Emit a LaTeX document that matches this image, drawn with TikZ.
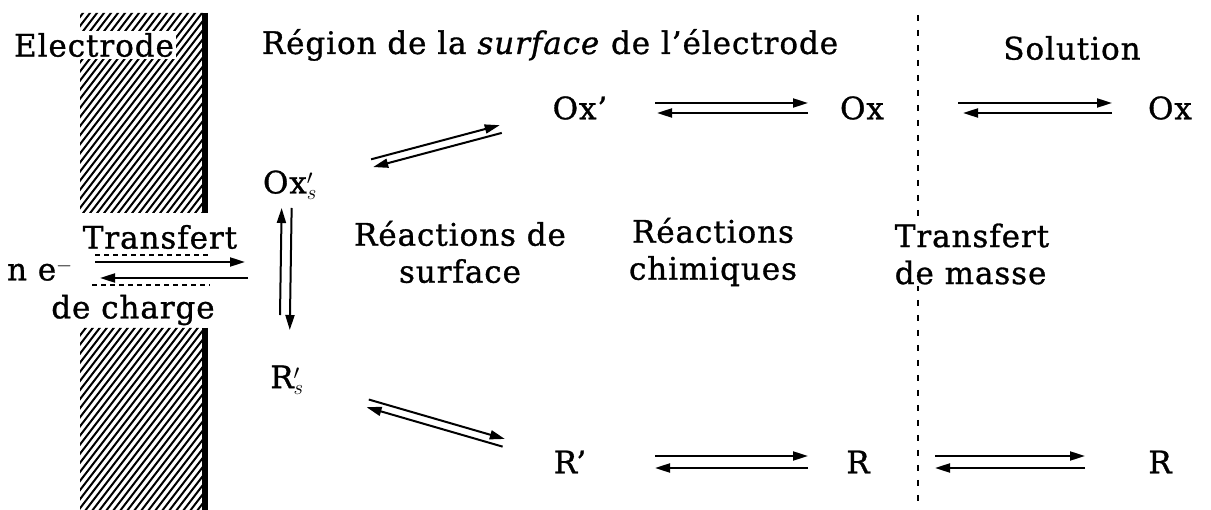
\documentclass[tikz,border=0pt]{standalone}
\usepackage{fontspec}
\setmainfont{DejaVu Serif}[LetterSpace=3,FakeBold=1]
\usetikzlibrary{arrows.meta,calc}

\begin{document}
\begin{tikzpicture}[x=1pt,y=-1pt,
    every node/.style={font=\fontsize{31}{37}\selectfont,inner sep=2pt},
    txtbox/.style={fill=white,align=center},
    eqline/.style={line width=2pt},
    eqhead/.style={eqline,-{Triangle[length=15pt,width=9pt]}},
    hatchline/.style={line width=2pt},
    wall/.style={line width=6pt}]
  \useasboundingbox (0,0) rectangle (1211,510);

  % electrode with its hatching
  \begin{scope}
    \clip (80,13) rectangle (203,213) (80,328) rectangle (203,512);
    \foreach \k in {-440,-433,...,220}{
      \draw[hatchline] (\k,520) -- (\k+400,0);
    }
  \end{scope}
  \draw[wall] (205,13) -- (205,213);
  \draw[wall] (205,328) -- (205,512);
  \draw[line width=2pt,dash pattern=on 5pt off 4pt] (95,255) -- (210,255);
  \draw[line width=2pt,dash pattern=on 5pt off 4pt] (92,285) -- (210,285);

  % limit of the diffusion layer
  \draw[line width=2.2pt,dash pattern=on 6pt off 9pt] (918,15) -- (918,510);

  % titles
  \node[txtbox] (electrode) at (94,45) {Electrode};
  \node (region) at (550,45) {Région de la \textit{surface} de l'électrode};
  \node (solution) at (1072,48) {Solution};

  % species
  \node (ne) at (40,270) {n e$^{-}$};
  \coordinate (surf) at (250,270);
  \node (oxs) at (290,185) {Ox$'_{s}$};
  \node (rs) at (287,380) {R$'_{s}$};
  \node (oxp) at (580,108) {Ox'};
  \node (ox) at (862,108) {Ox};
  \node (oxsol) at (1170,108) {Ox};
  \node (rp) at (570,462) {R'};
  \node (r) at (858,462) {R};
  \node (rsol) at (1160,462) {R};

  % steps
  \node[txtbox] (transfert) at (160,237) {Transfert};
  \node[txtbox] (charge) at (133,310) {de charge};
  \node[align=center] (surfreac) at (460,252) {Réactions de\\surface};
  \node[align=center] (chimreac) at (713,252) {Réactions\\chimiques};
  \node[txtbox,align=left] (masse) at (972,254) {Transfert\\de masse};

  % equilibria
  \draw[eqhead,shorten <=55pt,shorten >=5pt]
    ([yshift=8pt]ne.center) -- ([yshift=8pt]surf);
  \draw[eqhead,shorten <=2pt,shorten >=60pt]
    ([yshift=-8pt]surf) -- ([yshift=-8pt]ne.center);

  \draw[eqhead,shorten <=65pt,shorten >=23pt]
    ([xshift=-8pt]rs.center) -- ([xshift=-8pt]oxs.center);
  \draw[eqhead,shorten <=23pt,shorten >=50pt]
    ([xshift=2pt]oxs.center) -- ([xshift=2pt]rs.center);

  \draw[eqhead,shorten <=85pt,shorten >=82pt]
    ($(oxs)!4pt!90:(oxp)$) -- ($(oxp)!4pt!-90:(oxs)$);
  \draw[eqhead,shorten <=82pt,shorten >=85pt]
    ($(oxp)!4pt!90:(oxs)$) -- ($(oxs)!4pt!-90:(oxp)$);

  \draw[eqhead,shorten <=84pt,shorten >=69pt]
    ($(rs)!4pt!90:(rp)$) -- ($(rp)!4pt!-90:(rs)$);
  \draw[eqhead,shorten <=69pt,shorten >=84pt]
    ($(rp)!4pt!90:(rs)$) -- ($(rs)!4pt!-90:(rp)$);

  \draw[eqhead,shorten <=75pt,shorten >=54pt]
    ([yshift=5pt]oxp.center) -- ([yshift=5pt]ox.center);
  \draw[eqhead,shorten <=54pt,shorten >=77pt]
    ([yshift=-5pt]ox.center) -- ([yshift=-5pt]oxp.center);
  \draw[eqhead,shorten <=96pt,shorten >=58pt]
    ([yshift=5pt]ox.center) -- ([yshift=5pt]oxsol.center);
  \draw[eqhead,shorten <=58pt,shorten >=101pt]
    ([yshift=-5pt]oxsol.center) -- ([yshift=-5pt]ox.center);

  \draw[eqhead,shorten <=85pt,shorten >=50pt]
    ([yshift=6pt]rp.center) -- ([yshift=6pt]r.center);
  \draw[eqhead,shorten <=50pt,shorten >=85pt]
    ([yshift=-6pt]r.center) -- ([yshift=-6pt]rp.center);
  \draw[eqhead,shorten <=77pt,shorten >=75pt]
    ([yshift=6pt]r.center) -- ([yshift=6pt]rsol.center);
  \draw[eqhead,shorten <=75pt,shorten >=77pt]
    ([yshift=-6pt]rsol.center) -- ([yshift=-6pt]r.center);
\end{tikzpicture}
\end{document}
